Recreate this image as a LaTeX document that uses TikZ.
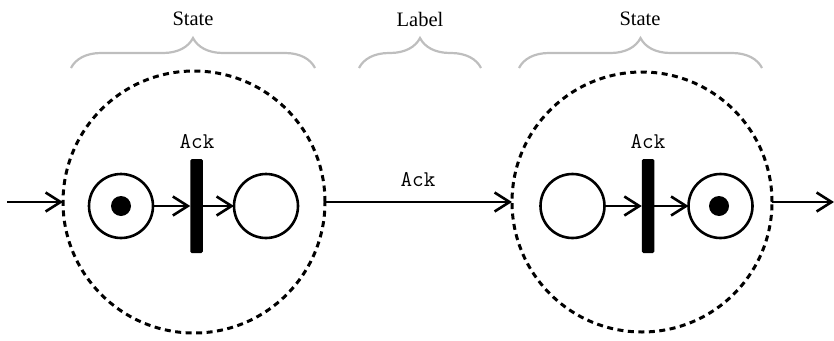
\documentclass[tikz,border=0pt]{standalone}
\usepackage{fontspec}
\setmainfont{Liberation Serif}
\usetikzlibrary{arrows.meta,decorations.pathreplacing}
\definecolor{braceg}{RGB}{190,190,190}
\tikzset{
  statecirc/.style={circle,draw,dash pattern=on 6pt off 4.5pt,line width=3pt,minimum size=262pt,inner sep=0pt,outer sep=0pt},
  place/.style={circle,draw,line width=2.6pt,minimum size=64pt,inner sep=0pt,outer sep=0pt},
  token/.style={circle,fill,minimum size=20pt,inner sep=0pt},
  trans/.style={rectangle,fill,rounded corners=1.5pt,minimum width=12.5pt,minimum height=94pt,inner sep=0pt,outer sep=0pt},
  arr/.style={line width=2.6pt,-{Straight Barb[length=15pt,width=19pt,line width=2.6pt]}},
  bracestyle/.style={draw=braceg,line width=2.2pt,decorate,decoration={brace,amplitude=30pt}},
  serlabel/.style={inner sep=0pt,font=\fontsize{20.5}{24}\selectfont},
  monolabel/.style={inner sep=0pt,font=\ttfamily\fontsize{22.5}{26}\selectfont},
}
\begin{document}
\begin{tikzpicture}[x=1pt,y=-1pt]
\useasboundingbox (0,0) rectangle (834,340);
% braces and labels
\coordinate (b1s) at (71,68); \coordinate (b1e) at (315,68);
\coordinate (b2s) at (359,68); \coordinate (b2e) at (481,68);
\coordinate (b3s) at (519,68); \coordinate (b3e) at (762,68);
\draw[bracestyle] (b1s) -- (b1e);
\draw[bracestyle] (b2s) -- (b2e);
\draw[bracestyle] (b3s) -- (b3e);
\node[serlabel] (s1) at (193,19) {State};
\node[serlabel] (lb) at (420,19) {Label};
\node[serlabel] (s2) at (640,19) {State};
% state circles
\node[statecirc] (c1) at (194,202) {};
\node[statecirc, minimum size=260pt] (c2) at (642,202) {};
% left state
\node[place] (p1) at (121,206) {};
\node[token] (k1) at (121,206) {};
\node[trans] (t1) at (196.5,206) {};
\node[place] (p2) at (266,206) {};
\node[monolabel] (a1) at (197,142) {Ack};
% right state
\node[place] (p3) at (572.5,206) {};
\node[trans] (t2) at (648,206) {};
\node[place] (p4) at (720.5,206) {};
\node[token] (k4) at (719,206) {};
\node[monolabel] (a2) at (648,142) {Ack};
% middle label
\node[monolabel] (am) at (418,180) {Ack};
% connectors
\coordinate (in) at (7,202);
\coordinate (out) at (834,202);
\draw[arr] (in) -- (c1.west);
\draw[arr] (p1) -- (t1);
\draw[arr] (t1) -- (p2);
\draw[arr] (c1.east) -- (c2.west);
\draw[arr] (p3) -- (t2);
\draw[arr] (t2) -- (p4);
\draw[arr] (c2.east) -- (out);
\end{tikzpicture}
\end{document}
